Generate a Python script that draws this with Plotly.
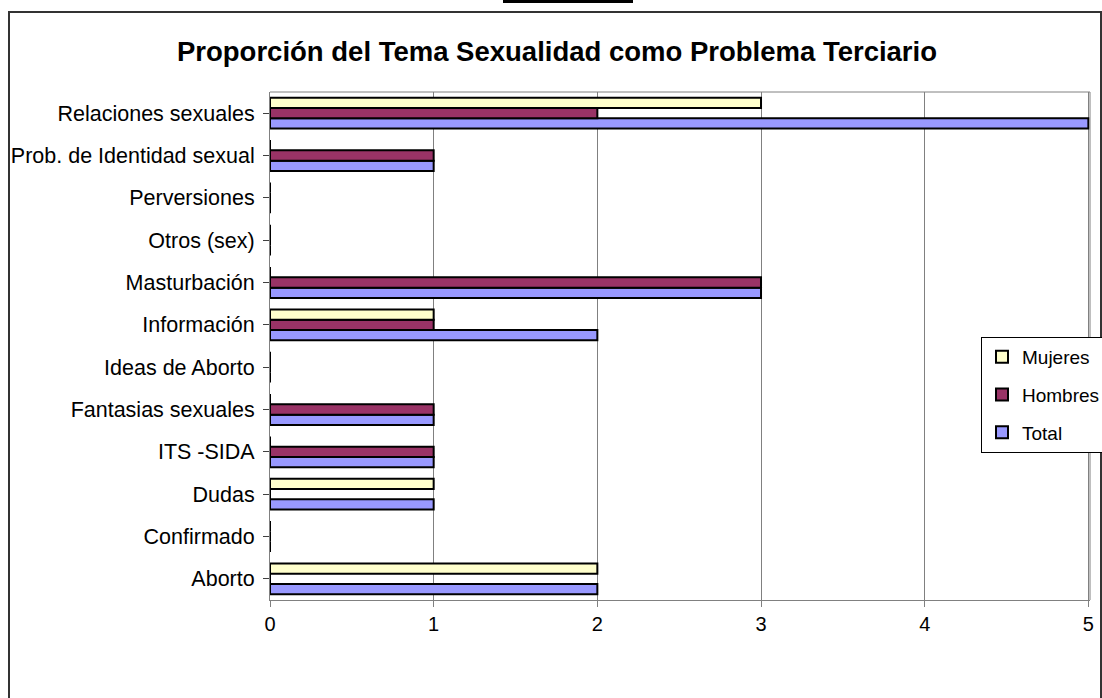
import plotly.graph_objects as go

categories = ["Aborto", "Confirmado", "Dudas", "ITS -SIDA", "Fantasias sexuales",
              "Ideas de Aborto", "Información", "Masturbación", "Otros (sex)",
              "Perversiones", "Prob. de Identidad sexual", "Relaciones sexuales"]
mujeres = [2, 0, 1, 0, 0, 0, 1, 0, 0, 0, 0, 3]
hombres = [0, 0, 0, 1, 1, 0, 1, 3, 0, 0, 1, 2]
total = [2, 0, 1, 1, 1, 0, 2, 3, 0, 0, 1, 5]
x_ticks = [0, 1, 2, 3, 4, 5]

W, H = 1102, 698
L, R, T, B = 270, 12, 92, 98
pw, ph = W - L - R, H - T - B

def px(x):
    return (x - L) / pw

def py(y):
    return 1 - (y - T) / ph

FONT = "Arial, Liberation Sans, sans-serif"

fig = go.Figure()
for name, vals, color, rank in [("Total", total, "#9999FF", 3),
                                ("Hombres", hombres, "#993366", 2),
                                ("Mujeres", mujeres, "#FFFFCC", 1)]:
    fig.add_trace(go.Bar(
        y=categories, x=vals, name=name, orientation="h", legendgroup=name,
        legendrank=rank,
        marker=dict(color=color, line=dict(color="black", width=2)),
    ))

fig.update_layout(
    width=W, height=H,
    margin=dict(l=L, r=R, t=T, b=B, autoexpand=False),
    paper_bgcolor="white", plot_bgcolor="white",
    barmode="group", bargap=0.27, bargroupgap=0,
    font=dict(family=FONT, size=20, color="black"),
    title=dict(text="<b>Proporción del Tema Sexualidad como Problema Terciario</b>",
               x=557 / W, xref="container", xanchor="center",
               y=1 - 51 / H, yref="container", yanchor="middle",
               font=dict(family=FONT, size=27.5, color="black")),
    legend=dict(traceorder="grouped", x=981 / W, y=1 - 337 / H,
                xref="container", yref="container", xanchor="left", yanchor="top",
                bordercolor="black", borderwidth=1, bgcolor="white",
                font=dict(family=FONT, size=19), itemwidth=30,
                tracegroupgap=10),
    xaxis=dict(range=[0, 5.01], tickvals=x_ticks, showgrid=True, gridcolor="#808080",
               gridwidth=1, zeroline=False, showline=True, linecolor="#808080",
               ticks="outside", ticklen=6, tickcolor="#808080", mirror=False,
               tickfont=dict(size=20, family=FONT), automargin=False),
    yaxis=dict(categoryorder="array", categoryarray=categories, showgrid=False,
               showline=True, linecolor="#808080", ticks="outside", ticklen=6,
               tickcolor="#404040", tickfont=dict(size=21.5, family=FONT),
               ticklabelstandoff=4, automargin=False),
    shapes=[
        dict(type="rect", xref="paper", yref="paper", x0=px(9), x1=px(1101),
             y0=py(710), y1=py(12), line=dict(color="#333333", width=2)),
        dict(type="rect", xref="paper", yref="paper", x0=px(503), x1=px(633),
             y0=py(3), y1=py(0), line=dict(width=0), fillcolor="black"),
        dict(type="line", xref="paper", yref="paper", x0=0, x1=1, y0=1, y1=1,
             line=dict(color="#808080", width=1)),
        dict(type="line", xref="paper", yref="paper", x0=1, x1=1, y0=0, y1=1,
             line=dict(color="#808080", width=1)),
    ],
)

fig.write_html("out.html", config={"displayModeBar": False},
               post_script="document.body.style.margin='0';")
